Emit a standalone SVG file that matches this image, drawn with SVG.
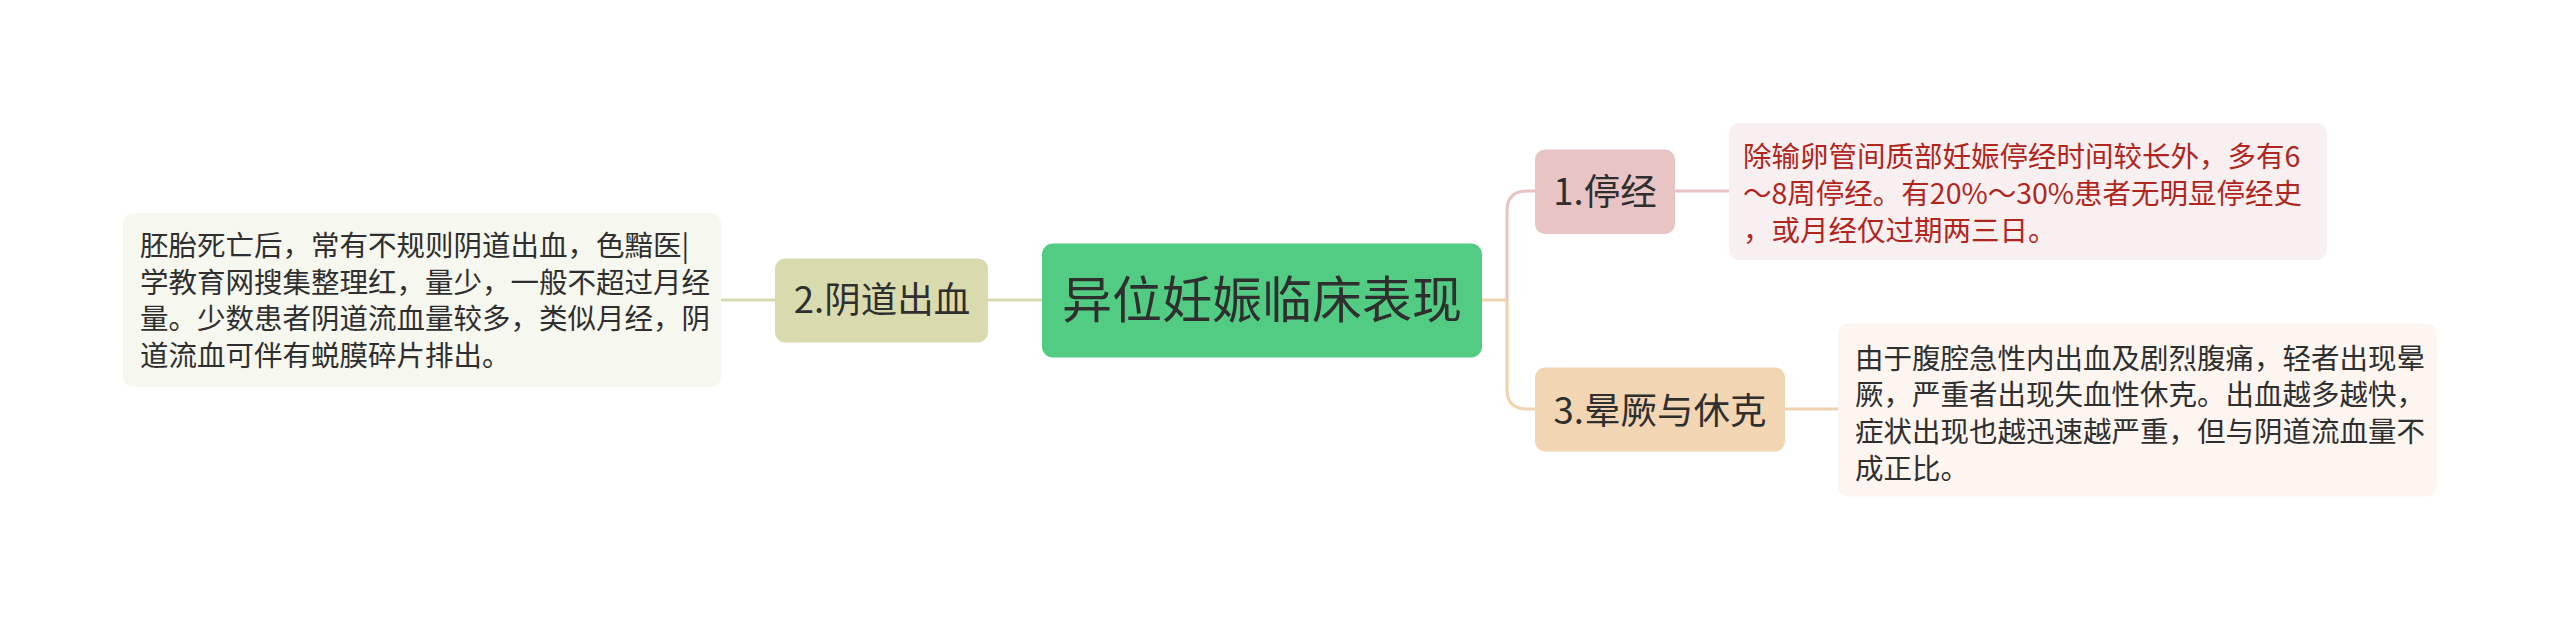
<svg xmlns="http://www.w3.org/2000/svg" width="2560" height="620" viewBox="0 0 2560 620">
<style>
text { font-family: "Noto Sans CJK SC", "Noto Sans", sans-serif; fill: #2f2f2f; }
.body { font-size: 28.5px; }
.node { font-size: 36.5px; text-anchor: middle; }
.root { font-size: 50px; text-anchor: middle; }
.red { fill: #b0261e; }
.conn { fill: none; stroke-width: 3.2; stroke-linecap: round; }
</style>
<rect width="2560" height="620" fill="#ffffff"/>
<g id="connectors">
  <path class="conn" stroke="#d8dbb0" d="M721 300 H775"/>
  <path class="conn" stroke="#d8dbb0" d="M988 300 H1042"/>
  <path class="conn" stroke="#f0d4b2" d="M1482 300 H1507"/>
  <path class="conn" stroke="#e8c4c4" d="M1507 300 V211 Q1507 191 1527 191 H1535"/>
  <path class="conn" stroke="#f0d4b2" d="M1507 300 V389 Q1507 409 1527 409 H1535"/>
  <path class="conn" stroke="#e8c4c4" d="M1675 191 H1729"/>
  <path class="conn" stroke="#f0d4b2" d="M1785 409 H1838"/>
</g>
<g id="root">
  <rect x="1042" y="243.5" width="440" height="114" rx="11" fill="#52cc83"/>
  <text class="root" x="1262" y="318">异位妊娠临床表现</text>
</g>
<g id="node-2">
  <rect x="775" y="258.5" width="213" height="84" rx="10" fill="#d9dbae"/>
  <text class="node" x="882" y="313">2.阴道出血</text>
</g>
<g id="node-2-detail">
  <rect x="123" y="213" width="598" height="174" rx="10" fill="#f6f7ee"/>
  <text class="body" x="140" y="256">胚胎死亡后，常有不规则阴道出血，色黯医|</text>
  <text class="body" x="140" y="292.6">学教育网搜集整理红，量少，一般不超过月经</text>
  <text class="body" x="140" y="329.2">量。少数患者阴道流血量较多，类似月经，阴</text>
  <text class="body" x="140" y="365.8">道流血可伴有蜕膜碎片排出。</text>
</g>
<g id="node-1">
  <rect x="1535" y="149.5" width="140" height="84.5" rx="10" fill="#e8c4c4"/>
  <text class="node" x="1605" y="205">1.停经</text>
</g>
<g id="node-1-detail">
  <rect x="1729" y="123" width="598" height="137" rx="10" fill="#f8f0f0"/>
  <text class="body red" x="1743" y="167.3">除输卵管间质部妊娠停经时间较长外，多有6</text>
  <text class="body red" x="1743" y="203.9">～8周停经。有20%～30%患者无明显停经史</text>
  <text class="body red" x="1743" y="240.5">，或月经仅过期两三日。</text>
</g>
<g id="node-3">
  <rect x="1535" y="367.5" width="250" height="84" rx="10" fill="#f2d5b3"/>
  <text class="node" x="1660" y="424">3.晕厥与休克</text>
</g>
<g id="node-3-detail">
  <rect x="1838" y="323.5" width="599" height="173" rx="10" fill="#fdf6f0"/>
  <text class="body" x="1855" y="368.8">由于腹腔急性内出血及剧烈腹痛，轻者出现晕</text>
  <text class="body" x="1855" y="405.4">厥，严重者出现失血性休克。出血越多越快，</text>
  <text class="body" x="1855" y="442">症状出现也越迅速越严重，但与阴道流血量不</text>
  <text class="body" x="1855" y="478.6">成正比。</text>
</g>
</svg>
